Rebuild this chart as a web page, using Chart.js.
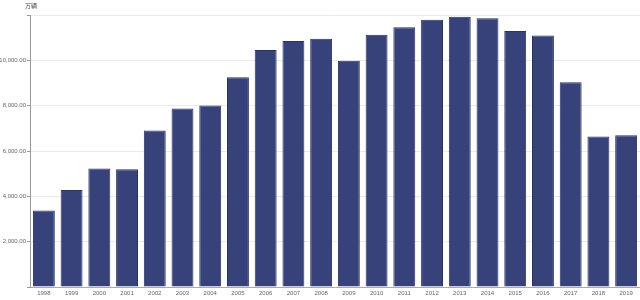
<!DOCTYPE html>
<html>
<head>
<meta charset="utf-8">
<script src="https://cdn.jsdelivr.net/npm/chart.js@4/dist/chart.umd.min.js"></script>
<style>
html,body{margin:0;padding:0;background:#fff;}
#wrap{width:640px;height:300px;}
</style>
</head>
<body>
<div id="wrap"><canvas id="c" width="640" height="300"></canvas></div>
<script>
const years = ['1998','1999','2000','2001','2002','2003','2004','2005','2006','2007','2008','2009','2010','2011','2012','2013','2014','2015','2016','2017','2018','2019'];
const sales = [3380,4280,5230,5200,6900,7880,8010,9250,10460,10850,10950,9985,11130,11460,11790,11920,11860,11290,11100,9030,6645,6690];
const unitLabel = '万辆';
const yTicks = [2000,4000,6000,8000,10000];

const unitPlugin = {
  id: 'unitLabel',
  afterDraw(chart) {
    const ctx = chart.ctx;
    ctx.save();
    ctx.font = '6px "Noto Sans CJK SC", sans-serif';
    ctx.fillStyle = '#444';
    ctx.textAlign = 'left';
    ctx.textBaseline = 'middle';
    ctx.fillText(unitLabel, chart.chartArea.left - 5, 6);
    ctx.restore();
  }
};

new Chart(document.getElementById('c'), {
  type: 'bar',
  data: {
    labels: years,
    datasets: [{
      data: sales,
      backgroundColor: '#37417a',
      borderColor: '#2a3260',
      borderWidth: 1,
      barPercentage: 0.79,
      categoryPercentage: 1
    }]
  },
  options: {
    responsive: false,
    animation: false,
    devicePixelRatio: 1,
    layout: { padding: { top: 15, right: 0, left: 0, bottom: 0 } },
    plugins: { legend: { display: false }, tooltip: { enabled: false } },
    scales: {
      x: {
        grid: { display: false, drawTicks: false, tickLength: 0 },
        border: { display: true, color: '#aaa', width: 1 },
        ticks: { color: '#666', font: { size: 6, family: 'Liberation Sans, sans-serif' }, padding: 3, maxRotation: 0, autoSkip: false },
        afterFit(s) { s.height = 13; }
      },
      y: {
        min: 0, max: 12000,
        ticks: {
          stepSize: 2000,
          color: '#666',
          font: { size: 6, family: 'Liberation Sans, sans-serif' },
          padding: 1,
          callback(v) {
            return yTicks.includes(v) ? v.toLocaleString('en-US', { minimumFractionDigits: 2, maximumFractionDigits: 2 }) : '';
          }
        },
        grid: { color: '#ebebeb', tickLength: 3, tickColor: '#999' },
        border: { display: true, color: '#999', width: 1 },
        afterFit(s) { s.width = 30; }
      }
    }
  },
  plugins: [unitPlugin]
});
</script>
</body>
</html>
